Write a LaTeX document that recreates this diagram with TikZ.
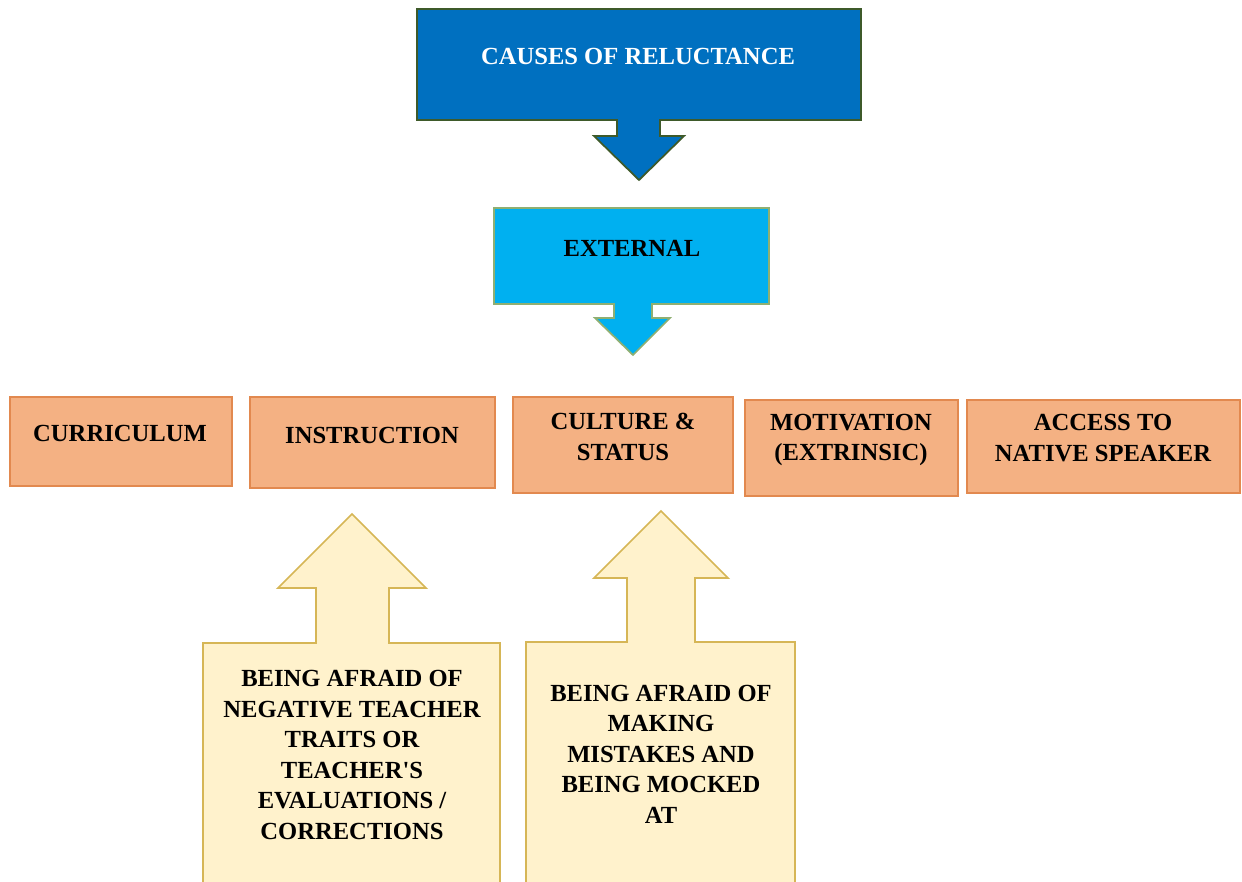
\documentclass[tikz,border=0pt]{standalone}
\usepackage{fontspec}
\setmainfont{Liberation Serif}
\definecolor{topblue}{HTML}{0070C0}
\definecolor{topedge}{HTML}{3E5A2A}
\definecolor{extblue}{HTML}{00B0F0}
\definecolor{extedge}{HTML}{8FAF72}
\definecolor{boxorange}{HTML}{F4B183}
\definecolor{edgeorange}{HTML}{E2894F}
\definecolor{paleyellow}{HTML}{FFF2CC}
\definecolor{edgegold}{HTML}{D6B656}

\begin{document}
\begin{tikzpicture}[x=0.02cm, y=-0.02cm,
	lbl/.style={font=\fontsize{14}{17.4}\selectfont\bfseries, align=center, inner sep=0pt},
	cause/.style={rectangle, fill=boxorange, draw=edgeorange, line width=1pt, inner sep=0pt}
	]
	\useasboundingbox (0,0) rectangle (1242,882);
	
	% top callout
	\filldraw[fill=topblue, draw=topedge, line width=1pt]
	(417,9) -- (861,9) -- (861,120) -- (660,120) -- (660,136) -- (684,136)
	-- (639,180) -- (594,136) -- (617,136) -- (617,120) -- (417,120) -- cycle;
	\node[lbl, text=white] (causes) at (638,56) {CAUSES OF RELUCTANCE};
	
	% external callout
	\filldraw[fill=extblue, draw=extedge, line width=1pt]
	(494,208) -- (769,208) -- (769,304) -- (652,304) -- (652,318) -- (670,318)
	-- (633,355) -- (595,318) -- (614,318) -- (614,304) -- (494,304) -- cycle;
	\node[lbl] (external) at (632,248) {EXTERNAL};
	
	% the five causes
	\node[cause, minimum width=4.44cm, minimum height=1.78cm] (curr) at (121,441.5) {};
	\node[cause, minimum width=4.9cm, minimum height=1.82cm] (instr) at (372.5,442.5) {};
	\node[cause, minimum width=4.4cm, minimum height=1.92cm] (cult) at (623,445) {};
	\node[cause, minimum width=4.26cm, minimum height=1.92cm] (motiv) at (851.5,448) {};
	\node[cause, minimum width=5.46cm, minimum height=1.86cm] (access) at (1103.5,446.5) {};
	
	\node[lbl] (curr-t) at (120,433) {CURRICULUM};
	\node[lbl] (instr-t) at (372,435) {INSTRUCTION};
	\node[lbl] (cult-t) at (623,437) {CULTURE \&\\STATUS};
	\node[lbl] (motiv-t) at (851,440) {MOTIVATION\\(EXTRINSIC)};
	\node[lbl] (access-t) at (1103,438) {ACCESS TO\\NATIVE SPEAKER};
	
	% upward callouts
	\filldraw[fill=paleyellow, draw=edgegold, line width=1pt]
	(203,890) -- (203,643) -- (316,643) -- (316,588) -- (278,588) -- (352,514)
	-- (426,588) -- (389,588) -- (389,643) -- (500,643) -- (500,890);
	\node[lbl] (teacher) at (352,755) {BEING AFRAID OF\\NEGATIVE TEACHER\\TRAITS OR\\TEACHER\textquotesingle S\\EVALUATIONS /\\CORRECTIONS};
	
	\filldraw[fill=paleyellow, draw=edgegold, line width=1pt]
	(526,890) -- (526,642) -- (627,642) -- (627,578) -- (594,578) -- (661,511)
	-- (728,578) -- (695,578) -- (695,642) -- (795,642) -- (795,890);
	\node[lbl] (mistakes) at (661,754) {BEING AFRAID OF\\MAKING\\MISTAKES AND\\BEING MOCKED\\AT};
\end{tikzpicture}
\end{document}
